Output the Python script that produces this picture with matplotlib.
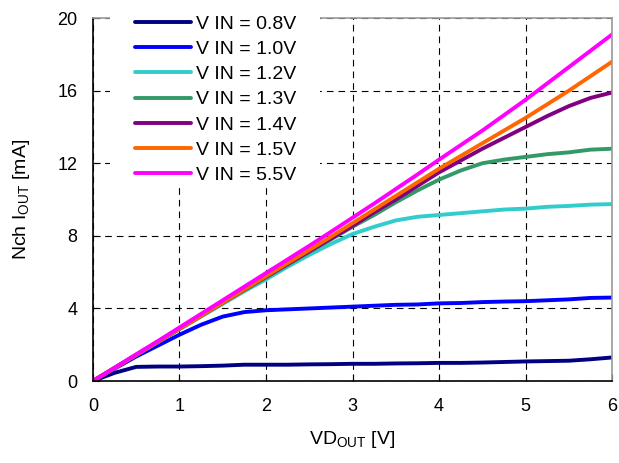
import numpy as np
import matplotlib
matplotlib.use('Agg')
import matplotlib.pyplot as plt
from matplotlib.patches import Rectangle

plt.rcParams['font.family'] = ['Liberation Sans', 'DejaVu Sans']
plt.rcParams['mathtext.fontset'] = 'custom'
plt.rcParams['mathtext.rm'] = 'Liberation Sans'

# drain voltage samples [V]
vd = [0, 0.25, 0.5, 0.75, 1, 1.25, 1.5, 1.75, 2, 2.25, 2.5, 2.75, 3,
      3.25, 3.5, 3.75, 4, 4.25, 4.5, 4.75, 5, 5.25, 5.5, 5.75, 6]

# output current [mA] for each VIN
i_08 = [0, 0.45, 0.78, 0.8, 0.8, 0.82, 0.85, 0.9, 0.9, 0.9, 0.92, 0.93, 0.95,
        0.95, 0.97, 0.98, 1.0, 1.0, 1.02, 1.05, 1.08, 1.1, 1.12, 1.2, 1.3]
i_10 = [0, 0.68, 1.35, 1.95, 2.55, 3.1, 3.55, 3.8, 3.9, 3.95, 4.0, 4.05, 4.1,
        4.15, 4.2, 4.22, 4.28, 4.3, 4.35, 4.38, 4.4, 4.45, 4.5, 4.58, 4.6]
i_12 = [0, 0.72, 1.43, 2.14, 2.85, 3.55, 4.25, 4.95, 5.6, 6.3, 6.95, 7.55, 8.1,
        8.5, 8.85, 9.05, 9.15, 9.25, 9.35, 9.45, 9.5, 9.6, 9.65, 9.72, 9.75]
i_13 = [0, 0.72, 1.44, 2.16, 2.88, 3.6, 4.3, 5.0, 5.7, 6.4, 7.1, 7.8, 8.5,
        9.15, 9.85, 10.5, 11.1, 11.6, 12.0, 12.2, 12.35, 12.5, 12.6, 12.75, 12.8]
i_14 = [0, 0.72, 1.44, 2.16, 2.88, 3.6, 4.32, 5.04, 5.75, 6.45, 7.15, 7.85, 8.55,
        9.3, 10.0, 10.75, 11.5, 12.15, 12.8, 13.4, 14.0, 14.6, 15.15, 15.6, 15.9]
i_15 = [0, 0.72, 1.44, 2.16, 2.88, 3.6, 4.32, 5.05, 5.78, 6.5, 7.22, 7.95, 8.7,
        9.45, 10.2, 10.95, 11.7, 12.4, 13.1, 13.8, 14.5, 15.25, 16.0, 16.8, 17.6]
i_55 = [0, 0.73, 1.47, 2.2, 2.95, 3.7, 4.45, 5.2, 5.95, 6.7, 7.45, 8.22, 9.0,
        9.78, 10.58, 11.38, 12.2, 13.0, 13.8, 14.65, 15.5, 16.4, 17.3, 18.2, 19.1]

labels = ['V IN = 0.8V', 'V IN = 1.0V', 'V IN = 1.2V', 'V IN = 1.3V',
          'V IN = 1.4V', 'V IN = 1.5V', 'V IN = 5.5V']
series = [i_08, i_10, i_12, i_13, i_14, i_15, i_55]
colors = ['#000080', '#0000FF', '#33CCCC', '#339966', '#800080', '#FF6600', '#FF00FF']

fig = plt.figure(figsize=(6.19, 4.63), dpi=100)
ax = fig.add_axes([0.150, 0.177, 0.839, 0.784])

for ys, c, lab in zip(series, colors, labels):
    ax.plot(vd, ys, color=c, lw=2.8, label=lab, solid_capstyle='round')

ax.set_xlim(0, 6)
ax.set_ylim(0, 20)
ax.set_xticks(range(0, 7))
ax.set_yticks(range(0, 21, 4))
ax.grid(True, color='black', linestyle=(0, (6, 4.5)), linewidth=0.8)
ax.tick_params(direction='in', length=5, labelsize=13, color='black')
ax.tick_params(axis='x', pad=12)
ax.tick_params(axis='y', pad=11)
for s in ['top', 'right']:
    ax.spines[s].set_color('#999999')
for s in ['left', 'bottom']:
    ax.spines[s].set_color('black')
for s in ax.spines.values():
    s.set_linewidth(1.2)

ax.set_xlabel(r'VD$\mathregular{_{OUT}}$ [V]', fontsize=14, labelpad=10)
ax.set_ylabel(r'Nch I$\mathregular{_{OUT}}$ [mA]', fontsize=14, labelpad=18)

# white box behind the legend (covers grid and top spine)
ax.add_patch(Rectangle((0.033, 0.532), 0.404, 0.52, transform=ax.transAxes,
                       facecolor='white', edgecolor='none', zorder=3, clip_on=False))

leg = ax.legend(loc='upper left', bbox_to_anchor=(0.081, 1.008), frameon=False,
                fontsize=14, handlelength=2.9, handletextpad=0.25,
                labelspacing=0.39, borderpad=0, borderaxespad=0)
leg.set_zorder(4)

fig.savefig('out.png', dpi=100)
